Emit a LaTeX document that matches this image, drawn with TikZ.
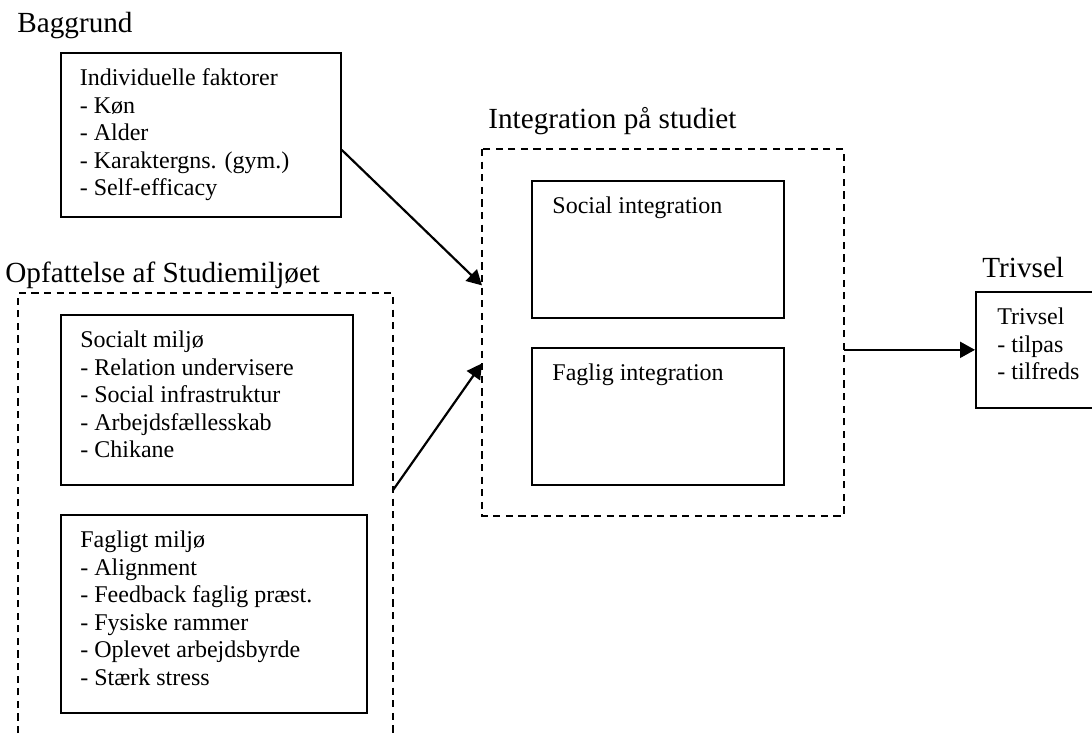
\documentclass[tikz,border=0pt]{standalone}
\usepackage{fontspec}
\setmainfont{Liberation Serif}
\usetikzlibrary{positioning,arrows.meta}

\tikzset{
  box/.style={draw,line width=0.85pt,anchor=north west,inner sep=0pt},
  hidbox/.style={draw=none,anchor=north west,inner sep=0pt},
  dashline/.style={line width=0.7pt,dash pattern=on 3.6pt off 2.7pt},
  txt/.style={inner sep=0pt,align=left,font=\fontsize{12}{13.75}\selectfont},
  title/.style={inner sep=0pt,anchor=base west,font=\fontsize{14.6}{17}\selectfont},
  arr/.style={line width=1.1pt,-{Triangle[length=7.5pt,width=8pt]}}
}

\begin{document}
\begin{tikzpicture}[x=0.5pt,y=-0.5pt]
\useasboundingbox (0,0) rectangle (1092,738);

% headings
\node[title] (tbag) at (17,33) {Baggrund};
\node[title] (topf) at (5,282) {Opfattelse af Studiemiljøet};
\node[title] (tint) at (488,128) {Integration på studiet};
\node[title] (ttri) at (982,277) {Trivsel};

% boxes
\node[box,minimum width=140pt,minimum height=82pt] (indiv) at (60,52) {};
\node[hidbox,minimum width=187pt,minimum height=226pt] (env) at (18,293) {};
\node[box,minimum width=146pt,minimum height=85pt] (socmil) at (60,314) {};
\node[box,minimum width=153pt,minimum height=99pt] (fagmil) at (60,514) {};
\node[hidbox,minimum width=180.5pt,minimum height=183pt] (integ) at (482,149) {};
\draw[dashline] (integ.north west) rectangle (integ.south east);
\node[box,minimum width=126pt,minimum height=68.5pt] (socint) at (531,180) {};
\node[box,minimum width=126pt,minimum height=68.5pt] (fagint) at (531,347) {};
\node[box,minimum width=65pt,minimum height=58pt] (trivsel) at (975,291) {};

% open dashed frame
\draw[dashline] (env.south west) -- (env.north west) -- (env.north east) -- (env.south east);

% texts
\node[txt,below right=8.3pt and 9.7pt of indiv.north west] (indivtxt)
  {Individuelle faktorer\\- Køn\\- Alder\\- Karaktergns. (gym.)\\- Self-efficacy};
\node[txt,below right=8.3pt and 10pt of socmil.north west] (socmiltxt)
  {Socialt miljø\\- Relation undervisere\\- Social infrastruktur\\- Arbejdsfællesskab\\- Chikane};
\node[txt,below right=8.3pt and 10pt of fagmil.north west] (fagmiltxt)
  {Fagligt miljø\\- Alignment\\- Feedback faglig præst.\\- Fysiske rammer\\- Oplevet arbejdsbyrde\\- Stærk stress};
\node[txt,below right=8.3pt and 10.5pt of socint.north west] (socinttxt) {Social integration};
\node[txt,below right=8.3pt and 10.5pt of fagint.north west] (faginttxt) {Faglig integration};
\node[txt,below right=8.3pt and 11pt of trivsel.north west] (trivseltxt)
  {Trivsel\\- tilpas\\- tilfreds};

% arrows
\draw[arr] ([yshift=-7.5pt]indiv.east) -- ([yshift=23.5pt]integ.west);
\draw[arr] ([yshift=14.5pt]env.east) -- ([yshift=-15.5pt]integ.west);
\draw[arr] (integ.east |- trivsel.west) -- (trivsel.west);
\end{tikzpicture}
\end{document}
